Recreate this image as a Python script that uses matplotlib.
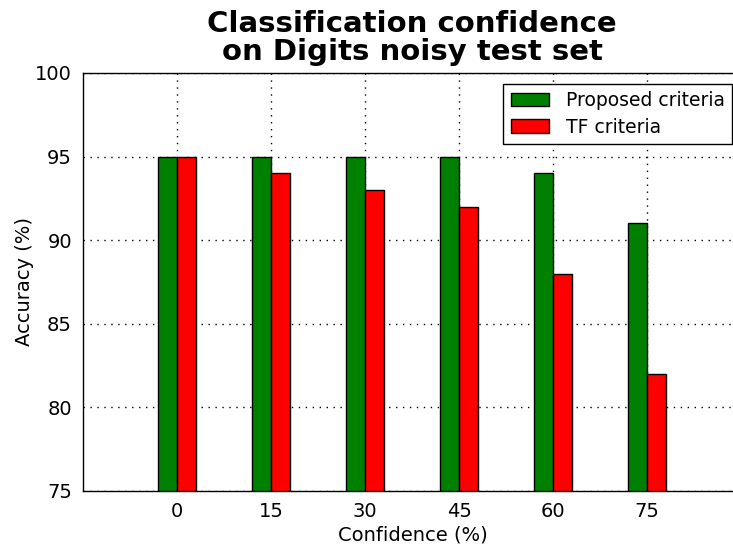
import matplotlib
matplotlib.use("Agg")
import matplotlib.pyplot as plt
import numpy as np

confidence = [0, 15, 30, 45, 60, 75]
proposed = [95, 95, 95, 95, 94, 91]
tf = [95, 94, 93, 92, 88, 82]
yticks = [75, 80, 85, 90, 95, 100]

fig = plt.figure(figsize=(7.33, 5.45), dpi=100)
W, H = 733, 545
ax = fig.add_axes([83 / W, (H - 491) / H, 660 / W, (491 - 73) / H])

x = np.array(confidence, dtype=float)
width = 3
ax.bar(x - width / 2, proposed, width, color="green", edgecolor="black",
       linewidth=1, label="Proposed criteria", zorder=2)
ax.bar(x + width / 2, tf, width, color="red", edgecolor="black",
       linewidth=1, label="TF criteria", zorder=2)

ax.set_xlim(-15, 90.3)
ax.set_ylim(75, 100)
ax.set_xticks(confidence)
ax.set_yticks(yticks)
ax.tick_params(direction="in", labelsize=14, length=0, pad=8)
ax.grid(True, linestyle=(0, (1, 4)), color="black", linewidth=1, zorder=0)
ax.set_axisbelow(True)
for s in ax.spines.values():
    s.set_linewidth(1)

ax.set_xlabel("Confidence (%)", fontsize=14, labelpad=3)
ax.set_ylabel("Accuracy (%)", fontsize=14, labelpad=1)
fig.text(412 / W, 1 - 38 / H, "Classification confidence\non Digits noisy test set",
         ha="center", va="center", fontsize=21, fontweight="bold", linespacing=1.0)

leg = ax.legend(loc="upper right", bbox_to_anchor=(732 / W, 1 - 84 / H),
                bbox_transform=fig.transFigure, fontsize=13.5, fancybox=False,
                framealpha=1, edgecolor="black", borderaxespad=0,
                handlelength=2.05, handleheight=0.75, handletextpad=0.9,
                labelspacing=0.4, borderpad=0.38)
leg.get_frame().set_linewidth(1)

fig.savefig("out.png", dpi=100)
